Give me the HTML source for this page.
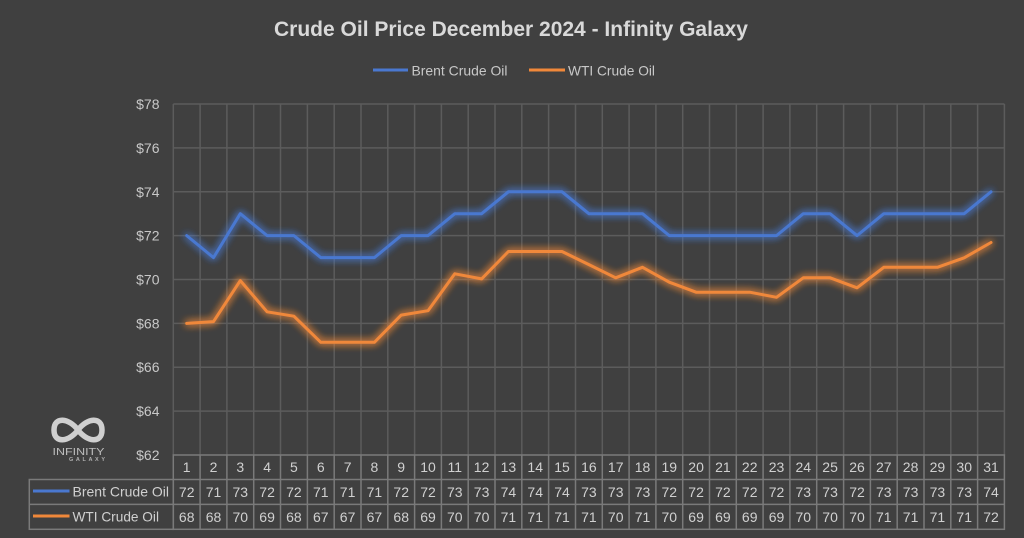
<!DOCTYPE html>
<html><head><meta charset="utf-8"><style>
html,body{margin:0;padding:0;background:#404040;}
svg{display:block;}
text{font-family:"Liberation Sans",sans-serif;}
</style></head><body>
<svg width="1024" height="538" viewBox="0 0 1024 538" xmlns="http://www.w3.org/2000/svg">
<defs>
<filter id="glow" x="-10%" y="-50%" width="120%" height="200%">
<feGaussianBlur in="SourceGraphic" stdDeviation="4" result="b"/>
<feMerge><feMergeNode in="b"/><feMergeNode in="b"/><feMergeNode in="SourceGraphic"/></feMerge>
</filter>
</defs>
<rect width="1024" height="538" fill="#404040"/>
<!-- title -->
<text x="274" y="36" font-size="21" font-weight="bold" fill="#d9d9d9" textLength="474" lengthAdjust="spacingAndGlyphs">Crude Oil Price December 2024 - Infinity Galaxy</text>
<!-- legend -->
<line x1="373" y1="70" x2="408" y2="70" stroke="#4a78d0" stroke-width="3"/>
<text x="411.5" y="75.5" font-size="14" fill="#c8c8c8" textLength="96" lengthAdjust="spacingAndGlyphs">Brent Crude Oil</text>
<line x1="529" y1="70" x2="565" y2="70" stroke="#f0883a" stroke-width="3"/>
<text x="568" y="75.5" font-size="14" fill="#c8c8c8" textLength="87" lengthAdjust="spacingAndGlyphs">WTI Crude Oil</text>
<!-- gridlines -->
<g stroke="#5c5c5c" stroke-width="1.5" fill="none">
<line x1="173.3" y1="104" x2="1004.4" y2="104"/>
<line x1="173.3" y1="147.9" x2="1004.4" y2="147.9"/>
<line x1="173.3" y1="191.8" x2="1004.4" y2="191.8"/>
<line x1="173.3" y1="235.6" x2="1004.4" y2="235.6"/>
<line x1="173.3" y1="279.5" x2="1004.4" y2="279.5"/>
<line x1="173.3" y1="323.4" x2="1004.4" y2="323.4"/>
<line x1="173.3" y1="367.2" x2="1004.4" y2="367.2"/>
<line x1="173.3" y1="411.1" x2="1004.4" y2="411.1"/>
<path d="M173.3 104V455M200.1 104V455M226.9 104V455M253.7 104V455M280.5 104V455M307.4 104V455M334.2 104V455M361 104V455M387.8 104V455M414.6 104V455M441.4 104V455M468.2 104V455M495 104V455M521.8 104V455M548.6 104V455M575.5 104V455M602.3 104V455M629.1 104V455M655.9 104V455M682.7 104V455M709.5 104V455M736.3 104V455M763.1 104V455M789.9 104V455M816.7 104V455M843.6 104V455M870.4 104V455M897.2 104V455M924 104V455M950.8 104V455M977.6 104V455M1004.4 104V455"/>
</g>
<!-- y labels -->
<g font-size="14" fill="#c8c8c8" text-anchor="end">
<text x="159.5" y="109">$78</text>
<text x="159.5" y="152.9">$76</text>
<text x="159.5" y="196.8">$74</text>
<text x="159.5" y="240.6">$72</text>
<text x="159.5" y="284.5">$70</text>
<text x="159.5" y="328.4">$68</text>
<text x="159.5" y="372.2">$66</text>
<text x="159.5" y="416.1">$64</text>
<text x="159.5" y="460">$62</text>
</g>
<!-- series -->
<g fill="none" stroke-width="3" stroke-linejoin="round" stroke-linecap="round" filter="url(#glow)">
<polyline stroke="#4a78d0" points="186.7,235.6 213.5,257.6 240.3,213.7 267.1,235.6 293.9,235.6 320.8,257.6 347.6,257.6 374.4,257.6 401.2,235.6 428,235.6 454.8,213.7 481.6,213.7 508.4,191.8 535.2,191.8 562,191.8 588.9,213.7 615.7,213.7 642.5,213.7 669.3,235.6 696.1,235.6 722.9,235.6 749.7,235.6 776.5,235.6 803.3,213.7 830.1,213.7 857,235.6 883.8,213.7 910.6,213.7 937.4,213.7 964.2,213.7 991,191.8"/>
<polyline stroke="#f0883a" points="186.7,323.4 213.5,321.6 240.3,280.6 267.1,311.8 293.9,316.2 320.8,342.3 347.6,342.3 374.4,342.3 401.2,315.1 428,310.7 454.8,273.8 481.6,278.9 508.4,251.5 535.2,251.5 562,251.5 588.9,264.6 615.7,277.8 642.5,267.3 669.3,282.2 696.1,292.2 722.9,292.2 749.7,292.2 776.5,297.3 803.3,277.8 830.1,277.8 857,287.8 883.8,267.3 910.6,267.3 937.4,267.3 964.2,257.8 991,242.5"/>
</g>
<!-- data table -->
<g stroke="#7a7a7a" stroke-width="1.5" fill="none">
<rect x="173.3" y="455" width="831.1" height="74.3"/>
<rect x="29.3" y="479.5" width="144" height="49.8"/>
<line x1="29.3" y1="504.4" x2="1004.4" y2="504.4"/>
<line x1="173.3" y1="479.5" x2="1004.4" y2="479.5"/>
<path d="M200.1 455V529.3M226.9 455V529.3M253.7 455V529.3M280.5 455V529.3M307.4 455V529.3M334.2 455V529.3M361 455V529.3M387.8 455V529.3M414.6 455V529.3M441.4 455V529.3M468.2 455V529.3M495 455V529.3M521.8 455V529.3M548.6 455V529.3M575.5 455V529.3M602.3 455V529.3M629.1 455V529.3M655.9 455V529.3M682.7 455V529.3M709.5 455V529.3M736.3 455V529.3M763.1 455V529.3M789.9 455V529.3M816.7 455V529.3M843.6 455V529.3M870.4 455V529.3M897.2 455V529.3M924 455V529.3M950.8 455V529.3M977.6 455V529.3"/>
</g>
<line x1="33" y1="491" x2="69.5" y2="491" stroke="#4a78d0" stroke-width="3"/>
<line x1="33" y1="516" x2="69.5" y2="516" stroke="#f0883a" stroke-width="3"/>
<text x="72.5" y="496.5" font-size="14" fill="#d0d0d0" textLength="96.5" lengthAdjust="spacingAndGlyphs">Brent Crude Oil</text>
<text x="72.5" y="521.5" font-size="14" fill="#d0d0d0" textLength="86.5" lengthAdjust="spacingAndGlyphs">WTI Crude Oil</text>
<g font-size="14" fill="#d0d0d0" text-anchor="middle">
<text y="472"><tspan x="186.7">1</tspan><tspan x="213.5">2</tspan><tspan x="240.3">3</tspan><tspan x="267.1">4</tspan><tspan x="293.9">5</tspan><tspan x="320.8">6</tspan><tspan x="347.6">7</tspan><tspan x="374.4">8</tspan><tspan x="401.2">9</tspan><tspan x="428">10</tspan><tspan x="454.8">11</tspan><tspan x="481.6">12</tspan><tspan x="508.4">13</tspan><tspan x="535.2">14</tspan><tspan x="562">15</tspan><tspan x="588.9">16</tspan><tspan x="615.7">17</tspan><tspan x="642.5">18</tspan><tspan x="669.3">19</tspan><tspan x="696.1">20</tspan><tspan x="722.9">21</tspan><tspan x="749.7">22</tspan><tspan x="776.5">23</tspan><tspan x="803.3">24</tspan><tspan x="830.1">25</tspan><tspan x="857">26</tspan><tspan x="883.8">27</tspan><tspan x="910.6">28</tspan><tspan x="937.4">29</tspan><tspan x="964.2">30</tspan><tspan x="991">31</tspan></text>
<text y="497"><tspan x="186.7">72</tspan><tspan x="213.5">71</tspan><tspan x="240.3">73</tspan><tspan x="267.1">72</tspan><tspan x="293.9">72</tspan><tspan x="320.8">71</tspan><tspan x="347.6">71</tspan><tspan x="374.4">71</tspan><tspan x="401.2">72</tspan><tspan x="428">72</tspan><tspan x="454.8">73</tspan><tspan x="481.6">73</tspan><tspan x="508.4">74</tspan><tspan x="535.2">74</tspan><tspan x="562">74</tspan><tspan x="588.9">73</tspan><tspan x="615.7">73</tspan><tspan x="642.5">73</tspan><tspan x="669.3">72</tspan><tspan x="696.1">72</tspan><tspan x="722.9">72</tspan><tspan x="749.7">72</tspan><tspan x="776.5">72</tspan><tspan x="803.3">73</tspan><tspan x="830.1">73</tspan><tspan x="857">72</tspan><tspan x="883.8">73</tspan><tspan x="910.6">73</tspan><tspan x="937.4">73</tspan><tspan x="964.2">73</tspan><tspan x="991">74</tspan></text>
<text y="522"><tspan x="186.7">68</tspan><tspan x="213.5">68</tspan><tspan x="240.3">70</tspan><tspan x="267.1">69</tspan><tspan x="293.9">68</tspan><tspan x="320.8">67</tspan><tspan x="347.6">67</tspan><tspan x="374.4">67</tspan><tspan x="401.2">68</tspan><tspan x="428">69</tspan><tspan x="454.8">70</tspan><tspan x="481.6">70</tspan><tspan x="508.4">71</tspan><tspan x="535.2">71</tspan><tspan x="562">71</tspan><tspan x="588.9">71</tspan><tspan x="615.7">70</tspan><tspan x="642.5">71</tspan><tspan x="669.3">70</tspan><tspan x="696.1">69</tspan><tspan x="722.9">69</tspan><tspan x="749.7">69</tspan><tspan x="776.5">69</tspan><tspan x="803.3">70</tspan><tspan x="830.1">70</tspan><tspan x="857">70</tspan><tspan x="883.8">71</tspan><tspan x="910.6">71</tspan><tspan x="937.4">71</tspan><tspan x="964.2">71</tspan><tspan x="991">72</tspan></text>
</g>
<!-- logo -->
<path d="M78,430 C69,418 54,416 54,430 C54,444 69,442 78,430 C87,418 102,416 102,430 C102,444 87,442 78,430 Z" fill="none" stroke="#cfcfcf" stroke-width="5.5"/>
<text x="52.5" y="455" font-size="10.5" fill="#bdbdbd" textLength="52" lengthAdjust="spacingAndGlyphs">INFINITY</text>
<text x="69" y="461" font-size="5.5" font-weight="bold" fill="#b0b0b0" textLength="36" lengthAdjust="spacing">GALAXY</text>
</svg>
</body></html>
